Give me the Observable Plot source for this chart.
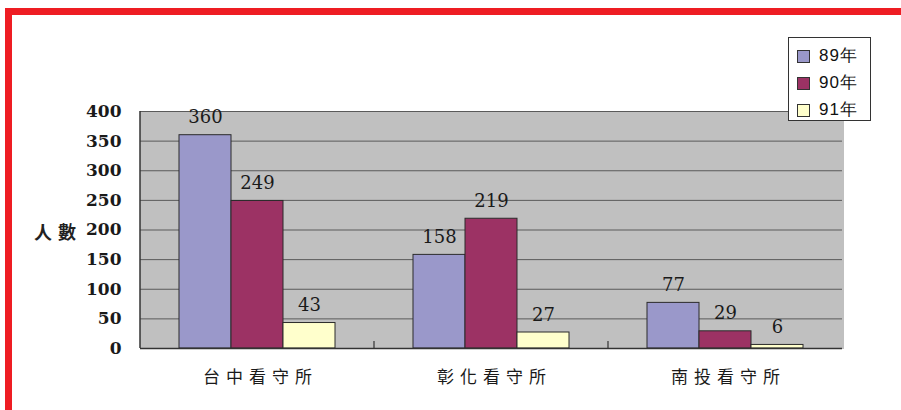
<!DOCTYPE html>
<html>
<head>
<meta charset="utf-8">
<script src="https://cdn.jsdelivr.net/npm/d3@7"></script>
<script src="https://cdn.jsdelivr.net/npm/@observablehq/plot@0.6"></script>
<style>
  body { margin: 0; background: #fff; }
  #wrap { position: relative; width: 901px; height: 410px; overflow: hidden; background: #fff; }
  #chart { position: absolute; left: 0; top: 0; }
  #frame { position: absolute; left: 5px; top: 8px; width: 940px; height: 440px; border: 7px solid #ee1d23; box-sizing: border-box; pointer-events: none; }
  #ylab { position: absolute; left: 34px; top: 222px; font: bold 18px/18px "Noto Sans CJK TC", sans-serif; letter-spacing: 6px; color: #222; }
  #legend { position: absolute; left: 788px; top: 37px; width: 83px; height: 84px; box-sizing: border-box; border: 1.5px solid #333; background: #fff; }
  .item { position: absolute; left: 8px; height: 18px; display: flex; align-items: center; font: 17px/18px "Liberation Sans", Arial, sans-serif; color: #111; letter-spacing: 1px; }
  .sw { width: 11px; height: 11px; border: 1.5px solid #333; margin-right: 9px; }
  #chart svg g[aria-label="fx-axis tick label"] text { letter-spacing: 6px; }
</style>
</head>
<body>
<div id="wrap">
  <div id="chart"></div>
  <div id="ylab">人數</div>
  <div id="legend"></div>
  <div id="frame"></div>
</div>
<script>
const categories = ["台中看守所", "彰化看守所", "南投看守所"];
const years = ["89年", "90年", "91年"];
const values89 = [360, 158, 77];
const values90 = [249, 219, 29];
const values91 = [43, 27, 6];
const yTicks = [0, 50, 100, 150, 200, 250, 300, 350, 400];
const colors = ["#9a98ca", "#9c3264", "#ffffcc"];

const series = [values89, values90, values91];
const data = categories.flatMap((c, i) =>
  years.map((yr, j) => ({category: c, year: yr, value: series[j][i]}))
);

const plot = Plot.plot({
  width: 901,
  height: 410,
  marginLeft: 140,
  marginRight: 59,
  marginTop: 111,
  marginBottom: 62,
  style: {background: "transparent"},
  fx: {domain: categories, padding: 0, label: null},
  x: {domain: years, paddingInner: 0, paddingOuter: 0.75, axis: null},
  y: {domain: [0, 400], label: null},
  color: {domain: years, range: colors},
  marks: [
    Plot.frame({fill: "#c0c0c0", insetLeft: -1, insetRight: -1, shapeRendering: "crispEdges"}),
    Plot.gridY(yTicks, {stroke: "#5a5a5a", strokeOpacity: 1, strokeWidth: 1}),
    Plot.barY(data, {fx: "category", x: "year", y: "value", fill: "year", stroke: "#2b2b2b", strokeWidth: 1}),
    Plot.text(data, {fx: "category", x: "year", y: "value", text: d => String(d.value), dy: -12, lineAnchor: "bottom", fontFamily: "DejaVu Serif", fontSize: 18, fill: "#1a1a1a"}),
    Plot.ruleY([0], {stroke: "#333", strokeWidth: 1.5}),
    Plot.axisY(yTicks, {tickSize: 0, tickPadding: 19, fontSize: 17, fontWeight: "bold", fontFamily: "DejaVu Serif", fill: "#1a1a1a", label: null}),
    Plot.axisFx({anchor: "bottom", tickSize: 0, tickPadding: 22, fontSize: 17, fontFamily: "Noto Sans CJK TC", fill: "#1a1a1a", dx: 3, label: null})
  ]
});
document.getElementById("chart").appendChild(plot);

// left axis line and category boundary ticks, positioned with the plot's own scales
const fx = plot.scale("fx");
const y = plot.scale("y");
const svg = d3.select(plot);
const g = svg.append("g").attr("stroke", "#333");
g.append("line")
  .attr("x1", fx.apply(categories[0])).attr("x2", fx.apply(categories[0]))
  .attr("y1", y.apply(0)).attr("y2", y.apply(400)).attr("stroke-width", 1.5);
categories.slice(0, -1).forEach(c => {
  const xx = fx.apply(c) + fx.bandwidth;
  g.append("line").attr("x1", xx).attr("x2", xx)
    .attr("y1", y.apply(0)).attr("y2", y.apply(0) - 7).attr("stroke-width", 1.2);
});

// legend
const legend = d3.select("#legend");
years.forEach((yr, i) => {
  const it = legend.append("div").attr("class", "item").style("top", (9 + i * 27) + "px");
  it.append("div").attr("class", "sw").style("background", colors[i]);
  it.append("span").text(yr);
});
</script>
</body>
</html>
